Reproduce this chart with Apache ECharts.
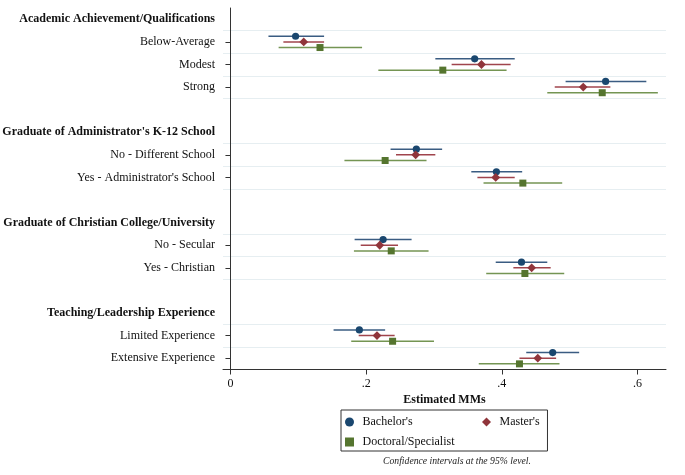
<!DOCTYPE html>
<html><head><meta charset="utf-8">
<script src="https://cdn.jsdelivr.net/npm/echarts@6/dist/echarts.min.js"></script>
<style>html,body{margin:0;padding:0;background:#fff}#c{width:685px;height:475px}</style>
</head><body><div id="c"></div>
<script>
const groupHeaders = ['Academic Achievement/Qualifications', "Graduate of Administrator's K-12 School", 'Graduate of Christian College/University', 'Teaching/Leadership Experience'];
const groupLevels = [
  ['Below-Average', 'Modest', 'Strong'],
  ['No - Different School', "Yes - Administrator's School"],
  ['No - Secular', 'Yes - Christian'],
  ['Limited Experience', 'Extensive Experience']
];
const seriesNames = ["Bachelor's", "Master's", 'Doctoral/Specialist'];
const bachelorEst = [0.096, 0.360, 0.553, 0.274, 0.392, 0.225, 0.429, 0.190, 0.475];
const bachelorLo  = [0.056, 0.302, 0.494, 0.236, 0.355, 0.183, 0.391, 0.152, 0.436];
const bachelorHi  = [0.138, 0.419, 0.613, 0.312, 0.430, 0.267, 0.467, 0.228, 0.514];
const masterEst   = [0.108, 0.370, 0.520, 0.273, 0.391, 0.220, 0.444, 0.216, 0.453];
const masterLo    = [0.078, 0.326, 0.478, 0.244, 0.364, 0.192, 0.417, 0.189, 0.426];
const masterHi    = [0.138, 0.413, 0.560, 0.302, 0.419, 0.247, 0.472, 0.242, 0.480];
const doctoralEst = [0.132, 0.313, 0.548, 0.228, 0.431, 0.237, 0.434, 0.239, 0.426];
const doctoralLo  = [0.071, 0.218, 0.467, 0.168, 0.373, 0.182, 0.377, 0.178, 0.366];
const doctoralHi  = [0.194, 0.407, 0.630, 0.289, 0.489, 0.292, 0.492, 0.300, 0.485];
const xTickValues = [0, 0.2, 0.4, 0.6];
const xTickLabels = ['0', '.2', '.4', '.6'];
const xTitle = 'Estimated MMs';
const footnote = 'Confidence intervals at the 95% level.';

// build category rows: header, levels, blank spacer
const categories = [];
const headerIdx = new Set();
const levelRow = [];
groupHeaders.forEach((h, g) => {
  headerIdx.add(categories.length);
  categories.push(h);
  groupLevels[g].forEach(l => { levelRow.push(categories.length); categories.push(l); });
  if (g < groupHeaders.length - 1) categories.push(' '.repeat(g + 1));
});
const dataRowSet = new Set(levelRow);

const FONT = 'Liberation Serif';
const FS = 12;
const colors = ['#1a476f', '#90353b', '#55752f'];
const ciColors = ['#3a5c82', '#a0444c', '#749553'];
const offsets = [-0.25, 0, 0.25];
const icons = ['circle', 'path://M0.5,0L1,0.5L0.5,1L0,0.5Z', 'path://M0,0L1,0L1,1L0,1Z'];

function makeSeries(k, est, lo, hi) {
  return {
    type: 'custom',
    name: seriesNames[k],
    itemStyle: { color: colors[k] },
    encode: { x: [1, 2, 3], y: 0 },
    data: est.map((v, i) => [levelRow[i], lo[i], v, hi[i]]),
    renderItem: (params, api) => {
      const row = api.value(0);
      const band = api.size([0, 1])[1];
      const dy = offsets[k] * band;
      const a = api.coord([api.value(1), row]);
      const b = api.coord([api.value(3), row]);
      const m = api.coord([api.value(2), row]);
      const y = m[1] + dy;
      const children = [{
        type: 'line',
        shape: { x1: a[0], y1: y, x2: b[0], y2: y },
        style: { stroke: ciColors[k], lineWidth: 1.5 }
      }];
      if (k === 0) {
        children.push({ type: 'circle', shape: { cx: m[0], cy: y, r: 3.6 }, style: { fill: colors[k] } });
      } else if (k === 1) {
        const s = 4.4;
        children.push({ type: 'polygon', shape: { points: [[m[0], y - s], [m[0] + s, y], [m[0], y + s], [m[0] - s, y]] }, style: { fill: colors[k] } });
      } else {
        const s = 3.5;
        children.push({ type: 'rect', shape: { x: m[0] - s, y: y - s, width: 2 * s, height: 2 * s }, style: { fill: colors[k] } });
      }
      return { type: 'group', children };
    }
  };
}

const legendText = { fontFamily: FONT, fontSize: FS, color: '#111' };
const chart = echarts.init(document.getElementById('c'), null, { renderer: 'canvas' });
chart.setOption({
  animation: false,
  backgroundColor: '#fff',
  textStyle: { fontFamily: FONT },
  title: {
    text: footnote, left: 383, top: 456, padding: 0,
    textStyle: { fontFamily: FONT, fontSize: 9.7, fontStyle: 'italic', fontWeight: 'normal', color: '#222' }
  },
  legend: [
    {
      left: 341, top: 410, orient: 'vertical',
      padding: [6, 93, 3, 4], itemGap: 8, itemWidth: 16, itemHeight: 9,
      borderColor: '#333', borderWidth: 1,
      textStyle: legendText,
      data: [
        { name: seriesNames[0], icon: icons[0] },
        { name: seriesNames[2], icon: icons[2] }
      ]
    },
    {
      left: 482, top: 416, orient: 'vertical', padding: 0,
      itemWidth: 16, itemHeight: 9,
      textStyle: legendText,
      data: [{ name: seriesNames[1], icon: icons[1] }]
    }
  ],
  grid: { left: 223, right: 19, top: 8, bottom: 105.5, outerBoundsMode: 'none', containLabel: false },
  xAxis: {
    type: 'value', min: -0.011, max: 0.642,
    name: xTitle, nameLocation: 'middle', nameGap: 22,
    nameTextStyle: { fontFamily: FONT, fontSize: FS, fontWeight: 'bold', color: '#111' },
    axisLine: { show: true, lineStyle: { color: '#333', width: 1 } },
    axisTick: { show: true, length: 5, customValues: xTickValues, lineStyle: { color: '#333' } },
    axisLabel: {
      customValues: xTickValues, margin: 8, fontFamily: FONT, fontSize: FS, color: '#111',
      formatter: v => { const i = xTickValues.findIndex(t => Math.abs(t - v) < 1e-9); return i >= 0 ? xTickLabels[i] : ''; }
    },
    splitLine: { show: false }
  },
  yAxis: {
    type: 'category', inverse: true, data: categories, boundaryGap: true,
    axisLine: { show: true, lineStyle: { color: '#333', width: 1 } },
    axisTick: { show: true, alignWithLabel: true, length: 5, interval: (i) => dataRowSet.has(i), lineStyle: { color: '#333' } },
    axisLabel: {
      interval: 0, margin: 8, fontFamily: FONT, fontSize: FS, color: '#111',
      formatter: (v, i) => headerIdx.has(i) ? '{h|' + v + '}' : '{n|' + v + '}',
      rich: {
        h: { fontFamily: FONT, fontSize: FS, fontWeight: 'bold', color: '#111' },
        n: { fontFamily: FONT, fontSize: FS, color: '#111' }
      }
    },
    splitLine: {
      show: true,
      interval: (i) => dataRowSet.has(i) || dataRowSet.has(i - 1),
      lineStyle: { color: '#e6eef1', width: 1 }
    }
  },
  series: [
    makeSeries(0, bachelorEst, bachelorLo, bachelorHi),
    makeSeries(1, masterEst, masterLo, masterHi),
    makeSeries(2, doctoralEst, doctoralLo, doctoralHi)
  ]
});
</script>
</body></html>
